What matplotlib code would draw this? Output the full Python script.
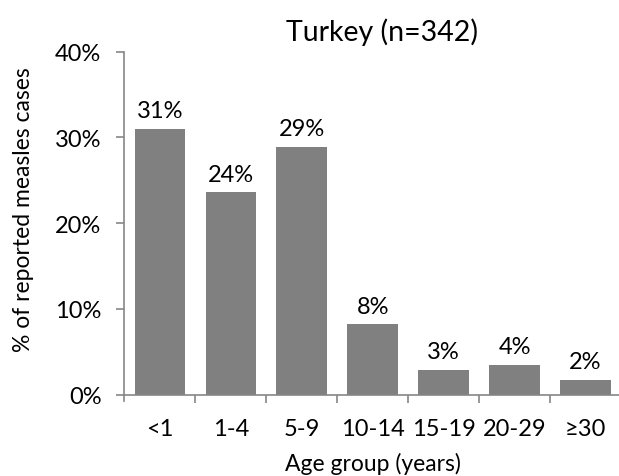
import numpy as np
import matplotlib.pyplot as plt

plt.rcParams['font.family'] = ['Lato', 'DejaVu Sans']

# Age distribution of reported measles cases
age_groups = ['<1', '1-4', '5-9', '10-14', '15-19', '20-29', '≥30']
pct_cases = [31.0, 23.6, 28.9, 8.2, 2.9, 3.5, 1.75]
y_ticks = [0, 10, 20, 30, 40]

bar_color = '#808080'
axis_color = '#868686'
fs = 17

fig = plt.figure(figsize=(6.19, 4.77), dpi=100)
ax = fig.add_axes([0.2008, 0.1704, 1.0032 - 0.2008, 0.719])

x = np.arange(len(age_groups))
ax.bar(x, pct_cases, width=0.71, color=bar_color, zorder=2)

for xi, v in zip(x, pct_cases):
    ax.text(xi, v + 0.9, f'{v:.0f}%', ha='center', va='bottom', fontsize=fs)

ax.set_xlim(-0.5, len(age_groups) - 0.5)
ax.set_ylim(0, 40)
ax.set_yticks(y_ticks)
ax.set_yticklabels([f'{t}%' for t in y_ticks], fontsize=fs)
ax.set_xticks(x + 0.5, minor=False)
ax.set_xticklabels([])
ax.set_xticks(x, minor=True)
ax.set_xticklabels(age_groups, minor=True, fontsize=fs)
ax.tick_params(axis='x', which='minor', length=0, pad=17)
ax.tick_params(axis='x', which='major', length=5.5, color=axis_color, width=1.2)
ax.tick_params(axis='y', length=5.5, color=axis_color, width=1.2, pad=11)

# extra tick at the y axis origin
ax.plot([-0.5, -0.5], [0, -0.019 * 40], color=axis_color, lw=1.2, clip_on=False)

for side in ['top', 'right']:
    ax.spines[side].set_visible(False)
for side in ['left', 'bottom']:
    ax.spines[side].set_color(axis_color)
    ax.spines[side].set_linewidth(1.2)

fig.text(0.5 * (124.3 + 621) / 619, 6 / 477, 'Age group (years)',
         ha='center', va='baseline', fontsize=16.5)
fig.text(24 / 619, 1 - 210 / 477, '% of reported measles cases',
         rotation=90, ha='center', va='center', fontsize=16.5)
fig.text(382.5 / 619, 1 - 41 / 477, 'Turkey (n=342)',
         ha='center', va='baseline', fontsize=20.5)

fig.savefig('out.png', dpi=100)
